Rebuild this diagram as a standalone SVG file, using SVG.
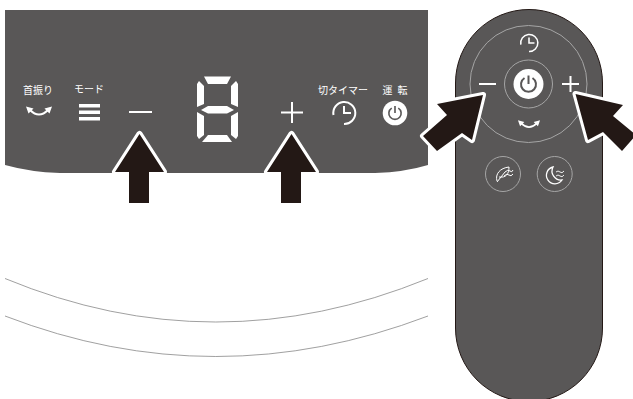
<svg xmlns="http://www.w3.org/2000/svg" width="633" height="399" viewBox="0 0 633 399">
<style>
.body{fill:#595757}
.lbl{font-family:"Noto Sans CJK JP","Noto Sans",sans-serif;font-size:10px;font-weight:400;fill:#fff;text-anchor:middle}
.w{fill:none;stroke:#fff;stroke-width:2}
.ring{fill:none;stroke:#a5a5a5;stroke-width:1}
.seg{fill:#fff}
.arrow{fill:#231815;stroke:#fff;stroke-width:6;stroke-linejoin:round;paint-order:stroke}
.curve{fill:none;stroke:#888;stroke-width:.8}
</style>
<defs>
<g id="swing"><path class="w" d="M-9 -2Q0 7 9 -2"/><path fill="#fff" d="M-13 -5.500L-5.500 -3.500L-10.500 1.500ZM13 -5.500L5.500 -3.500L10.500 1.500Z"/></g>
<g id="power"><circle r="15" fill="#fff"/><path fill="none" stroke="#595757" stroke-width="2" d="M-4 -6A7.500 7.500 0 1 0 4 -6M0 -8.500V0"/></g>
<path id="clock" class="w" d="M-10.500 2A11 11 0 1 1 0 11M0 -7V0H7"/>
</defs>
<g id="panel">
<path class="body" d="M5 10H428V165Q405 172 375 173H60Q30 172 5 165Z"/>
<text class="lbl" x="38" y="94">首振り</text>
<text class="lbl" x="89" y="93">モード</text>
<text class="lbl" x="343" y="94">切タイマー</text>
<text class="lbl" x="395" y="94" style="word-spacing:3px">運 転</text>
<use href="#swing" x="39" y="112"/>
<g fill="#fff"><rect x="79" y="104" width="21" height="3.500"/><rect x="79" y="110.500" width="21" height="3.500"/><rect x="79" y="117" width="21" height="3.500"/></g>
<rect x="129" y="111" width="23" height="2" fill="#fff"/>
<path class="w" d="M281 112.500H303M292 102V123"/>
<use href="#clock" x="344" y="113"/>
<g transform="translate(395 113) scale(.82)"><use href="#power"/></g>
<g id="digit" class="seg">
<path d="M204 76.500H231L227 84H208Z"/>
<path d="M199 81L204 86V104L197 107V84Z"/>
<path d="M236 81L231 86V104L238 107V84Z"/>
<path d="M201 110L208 106H227L234 110L227 113.500H208Z"/>
<path d="M197 112L204 116V135L199 139L197 136Z"/>
<path d="M238 112L231 116V135L236 139L238 136Z"/>
<path d="M202 142L208 135H227L232 142Z"/>
</g>
</g>
<g id="remote">
<path class="body" d="M455.500 83A73.500 73.500 0 0 1 602.500 83V328A73.500 73.500 0 0 1 455.500 328Z" stroke="#231815" stroke-width="1"/>
<circle class="ring" cx="528.500" cy="84" r="58.500"/>
<circle class="ring" cx="528.500" cy="84" r="24"/>
<use href="#power" x="528.500" y="84"/>
<g transform="translate(529 43) scale(.78)"><use href="#clock"/></g>
<g transform="translate(529 125) scale(.85)"><use href="#swing"/></g>
<rect x="479" y="83" width="17" height="2" fill="#fff"/>
<path class="w" d="M562 84H579M570.500 76V92"/>
<circle class="ring" cx="503" cy="174" r="17.500"/>
<circle class="ring" cx="554.700" cy="174" r="17.500"/>
<path class="w" style="stroke-width:1" d="M497 181C495 174 500 168 509 167C509 174 506 178 499 177M497 182L505 172M504 176Q507 173 509 175T513 174M505 172Q508 169 510 171T513 170"/>
<path class="w" style="stroke-width:1.300" d="M553 167A8.500 8.500 0 1 0 562 180A9 9 0 0 1 553 167Z"/>
<path class="w" style="stroke-width:.9" d="M556 172Q558 170 560 172T564 171M556 176Q558 174 560 176T564 175"/>
</g>
<g id="connectors">
<path class="arrow" d="M139.500 134L115 172H129V203H149V172H164Z"/>
<path class="arrow" d="M291.500 134L267 172H281V203H301V172H316Z"/>
<path class="arrow" d="M483 95L437 104L447 115L423 136L437 151L462 133L472 140Z"/>
<path class="arrow" d="M575.500 94L623 105L613 116L636 135L622 151L603 132L588 140Z"/>
</g>
<g id="curves">
<path class="curve" d="M5 278.500Q215 365.500 428 278.500"/>
<path class="curve" d="M5 316Q215 397 428 316"/>
</g>
</svg>
